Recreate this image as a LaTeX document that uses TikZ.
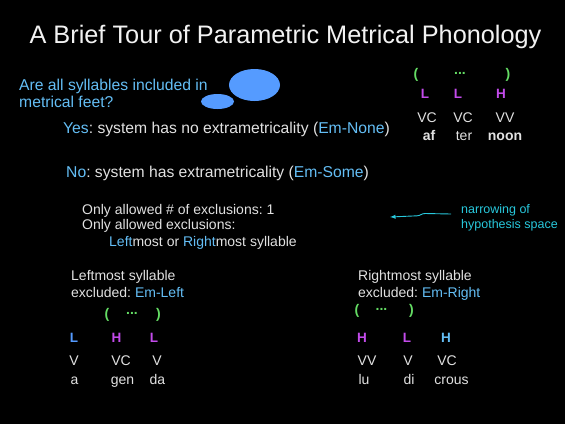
\documentclass[tikz,border=0pt]{standalone}
\usepackage{fontspec}
\setmainfont{Liberation Sans}
\usetikzlibrary{shapes.geometric}
\definecolor{slidetext}{RGB}{225,225,225}
\definecolor{keyblue}{RGB}{100,190,245}
\definecolor{bubbleblue}{RGB}{85,155,255}
\definecolor{notecyan}{RGB}{40,200,220}
\definecolor{footgreen}{RGB}{100,220,100}
\definecolor{weightpurple}{RGB}{195,75,235}
\newcommand{\key}[1]{\textcolor{keyblue}{#1}}
\frenchspacing
\tikzset{
  line/.style={text=slidetext, anchor=base west, inner sep=0pt, font=\fontsize{15.7}{18}\selectfont},
  smallline/.style={line, font=\fontsize{14}{16}\selectfont},
  cell/.style={text=slidetext, anchor=base, inner sep=0pt, font=\fontsize{14}{16}\selectfont},
  paren/.style={cell, anchor=center, text=footgreen, font=\fontsize{14}{16}\selectfont\bfseries},
  weight/.style={cell, text=weightpurple, font=\fontsize{13.5}{16}\selectfont\bfseries},
  bubble/.style={ellipse, fill=bubbleblue, draw=none, inner sep=0pt},
  noteline/.style={->, notecyan, line width=0.9pt}
}
\begin{document}
\begin{tikzpicture}[x=1pt, y=-1pt, >=latex]
  \fill[black] (0,0) rectangle (565,424);
  \useasboundingbox (0,0) rectangle (565,424);

  % title
  \node[text=white!95!black, inner sep=0pt, font=\fontsize{25.3}{30}\selectfont, anchor=base] (title) at (285.5,43) {A Brief Tour of Parametric Metrical Phonology};

  % question
  \node[line, text=keyblue] (question) at (19,90) {Are all syllables included in};
  \node[line, text=keyblue] (question2) at (19,107) {metrical feet?};
  \node[bubble, minimum width=51pt, minimum height=32pt] (bigbubble) at (254.5,85) {};
  \node[bubble, minimum width=33pt, minimum height=15pt] (smallbubble) at (217.5,101.5) {};

  \node[line] (yes) at (63,133) {\key{Yes}: system has no extrametricality (\key{Em-None})};

  % after-noon example
  \node[paren] (lp1) at (416,75) {(};
  \node[paren] (dots1) at (460,73) {...};
  \node[paren] (rp1) at (508,75) {)};
  \node[weight] (w11) at (425,98) {L};
  \node[weight] (w12) at (458,98) {L};
  \node[weight] (w13) at (501,98) {H};
  \node[cell] (s11) at (427,122) {VC};
  \node[cell] (s12) at (463,122) {VC};
  \node[cell] (s13) at (505,122) {VV};
  \node[cell, font=\fontsize{14}{16}\selectfont\bfseries] (t11) at (429,140) {af};
  \node[cell] (t12) at (464,140) {ter};
  \node[cell, font=\fontsize{14}{16}\selectfont\bfseries] (t13) at (505,140) {noon};

  \node[line] (no) at (66,177) {\key{No}: system has extrametricality (\key{Em-Some})};

  \node[smallline] (only1) at (82,214) {Only allowed \# of exclusions: 1};
  \node[smallline] (only2) at (82,229) {Only allowed exclusions:};
  \node[smallline] (only3) at (109,246) {\key{Left}most or \key{Right}most syllable};

  % note
  \node[smallline, text=notecyan, font=\fontsize{12.5}{14}\selectfont] (narrow) at (461,213) {narrowing of};
  \node[smallline, text=notecyan, font=\fontsize{12.5}{14}\selectfont] (narrow2) at (461,228) {hypothesis space};
  \coordinate (notetip) at (390,217);
  \draw[noteline] ([xshift=-10pt, yshift=-1pt]narrow.base west) -- (425,213.5) .. controls (421,213.6) and (421,215.6) .. (417,215.8) -- (notetip);

  % agenda example
  \node[smallline] (left1) at (71,280) {Leftmost syllable};
  \node[smallline] (left2) at (71,297) {excluded: \key{Em-Left}};
  \node[paren] (lp2) at (107,315) {(};
  \node[paren] (dots2) at (132,313) {...};
  \node[paren] (rp2) at (158.5,315) {)};
  \node[weight, text=bubbleblue] (w21) at (74,342) {L};
  \node[weight] (w22) at (116.5,342) {H};
  \node[weight] (w23) at (154,342) {L};
  \node[cell] (s21) at (74,365) {V};
  \node[cell] (s22) at (121,365) {VC};
  \node[cell] (s23) at (157,365) {V};
  \node[cell] (t21) at (74.5,384) {a};
  \node[cell] (t22) at (122.5,384) {gen};
  \node[cell] (t23) at (157.5,384) {da};

  % lugubrious example
  \node[smallline] (right1) at (358,280) {Rightmost syllable};
  \node[smallline] (right2) at (358,297) {excluded: \key{Em-Right}};
  \node[paren] (lp3) at (357,311) {(};
  \node[paren] (dots3) at (381.5,309) {...};
  \node[paren] (rp3) at (411.5,311) {)};
  \node[weight] (w31) at (362,342) {H};
  \node[weight] (w32) at (407,342) {L};
  \node[weight, text=keyblue] (w33) at (446,342) {H};
  \node[cell] (s31) at (367,365) {VV};
  \node[cell] (s32) at (408,365) {V};
  \node[cell] (s33) at (447,365) {VC};
  \node[cell] (t31) at (364,384) {lu};
  \node[cell] (t32) at (409,384) {di};
  \node[cell] (t33) at (451.5,384) {crous};
\end{tikzpicture}
\end{document}
